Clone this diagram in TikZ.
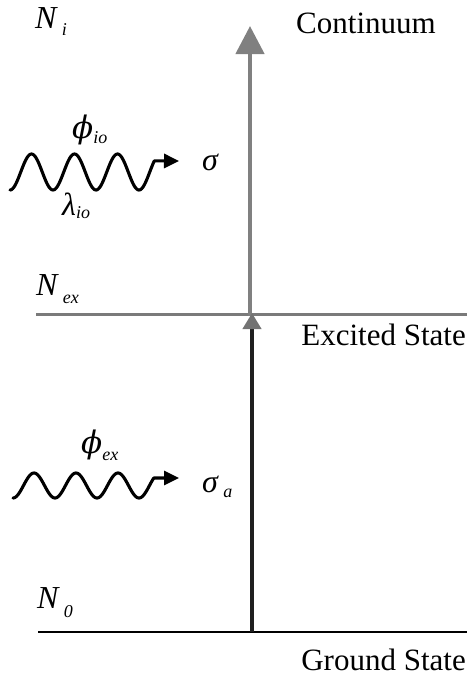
\documentclass[tikz,border=0pt]{standalone}
\usepackage{fontspec}
\setmainfont{Liberation Serif}
\newfontfamily\phifont{DejaVu Serif}
\usetikzlibrary{arrows.meta}
\newcommand\lowsub[2]{\raisebox{-#1pt}{\fontsize{18}{20}\selectfont\itshape #2}}
\newcommand\myphi{{\phifont\itshape\fontsize{31}{34}\selectfont ϕ}}
\begin{document}
\begin{tikzpicture}[x=1pt,y=-1pt,
  level/.style={line width=3pt, draw=black!52},
  txt/.style={font=\fontsize{31}{36}\selectfont, inner sep=0pt},
  sym/.style={font=\fontsize{32}{36}\selectfont\itshape, inner sep=0pt, anchor=base west},
  wave/.style={line width=3.1pt, line join=round, line cap=round}]
\useasboundingbox (0,0) rectangle (469,680);
% level end points
\coordinate (exL) at (36,314);
\coordinate (exR) at (467,314);
\coordinate (gL) at (38,632);
\coordinate (gR) at (467,632);
\coordinate (top) at (250,26);
\coordinate (exC) at (250,316);
\coordinate (gC) at (252,632);
\coordinate (exC2) at (252,313);
\coordinate (w1tip) at (179,161);
\coordinate (w2tip) at (179,478);
% levels
\draw[level] (exL) -- (exR);
\draw[line width=1.6pt, black] (gL) -- (gR);
% transitions
\draw[line width=4.5pt, draw=black!50, -{Triangle[length=28pt,width=28pt]}] (exC) -- (top);
\draw[line width=4pt, draw=black!88, -{Triangle[length=16pt,width=18pt,color=black!55]}] (gC) -- (exC2);
% photon waves
\draw[wave, -{Triangle[length=15pt,width=14pt]}] plot[domain=10:154.3, samples=160, smooth] (\x, {172+18*cos(8.3721*(\x-10))}) -- (w1tip);
\draw[wave, -{Triangle[length=15pt,width=14pt]}] plot[domain=13:153.8, samples=160, smooth] (\x, {485.5+12.5*cos(8.5714*(\x-13))}) -- (w2tip);
% labels
\node[sym] (Ni) at (35,28) {N\,\lowsub{7}{i}};
\node[txt, anchor=base] (cont) at (366,33) {Continuum};
\node[sym] (phiio) at (72,138) {\myphi\lowsub{5}{io}};
\node[sym] (sig) at (202,170) {σ};
\node[sym] (lamio) at (62,215) {λ\lowsub{3}{io}};
\node[sym] (Nex) at (36,295) {N\,\lowsub{8}{ex}};
\node[txt, anchor=base east] (exc) at (466,345) {Excited State};
\node[sym] (phiex) at (81,453) {\myphi\lowsub{7}{ex}};
\node[sym] (siga) at (202,492) {σ\,\lowsub{5}{a}};
\node[sym] (N0) at (37,608) {N\,\lowsub{9}{0}};
\node[txt, anchor=base east] (gs) at (466,670) {Ground State};
\end{tikzpicture}
\end{document}
